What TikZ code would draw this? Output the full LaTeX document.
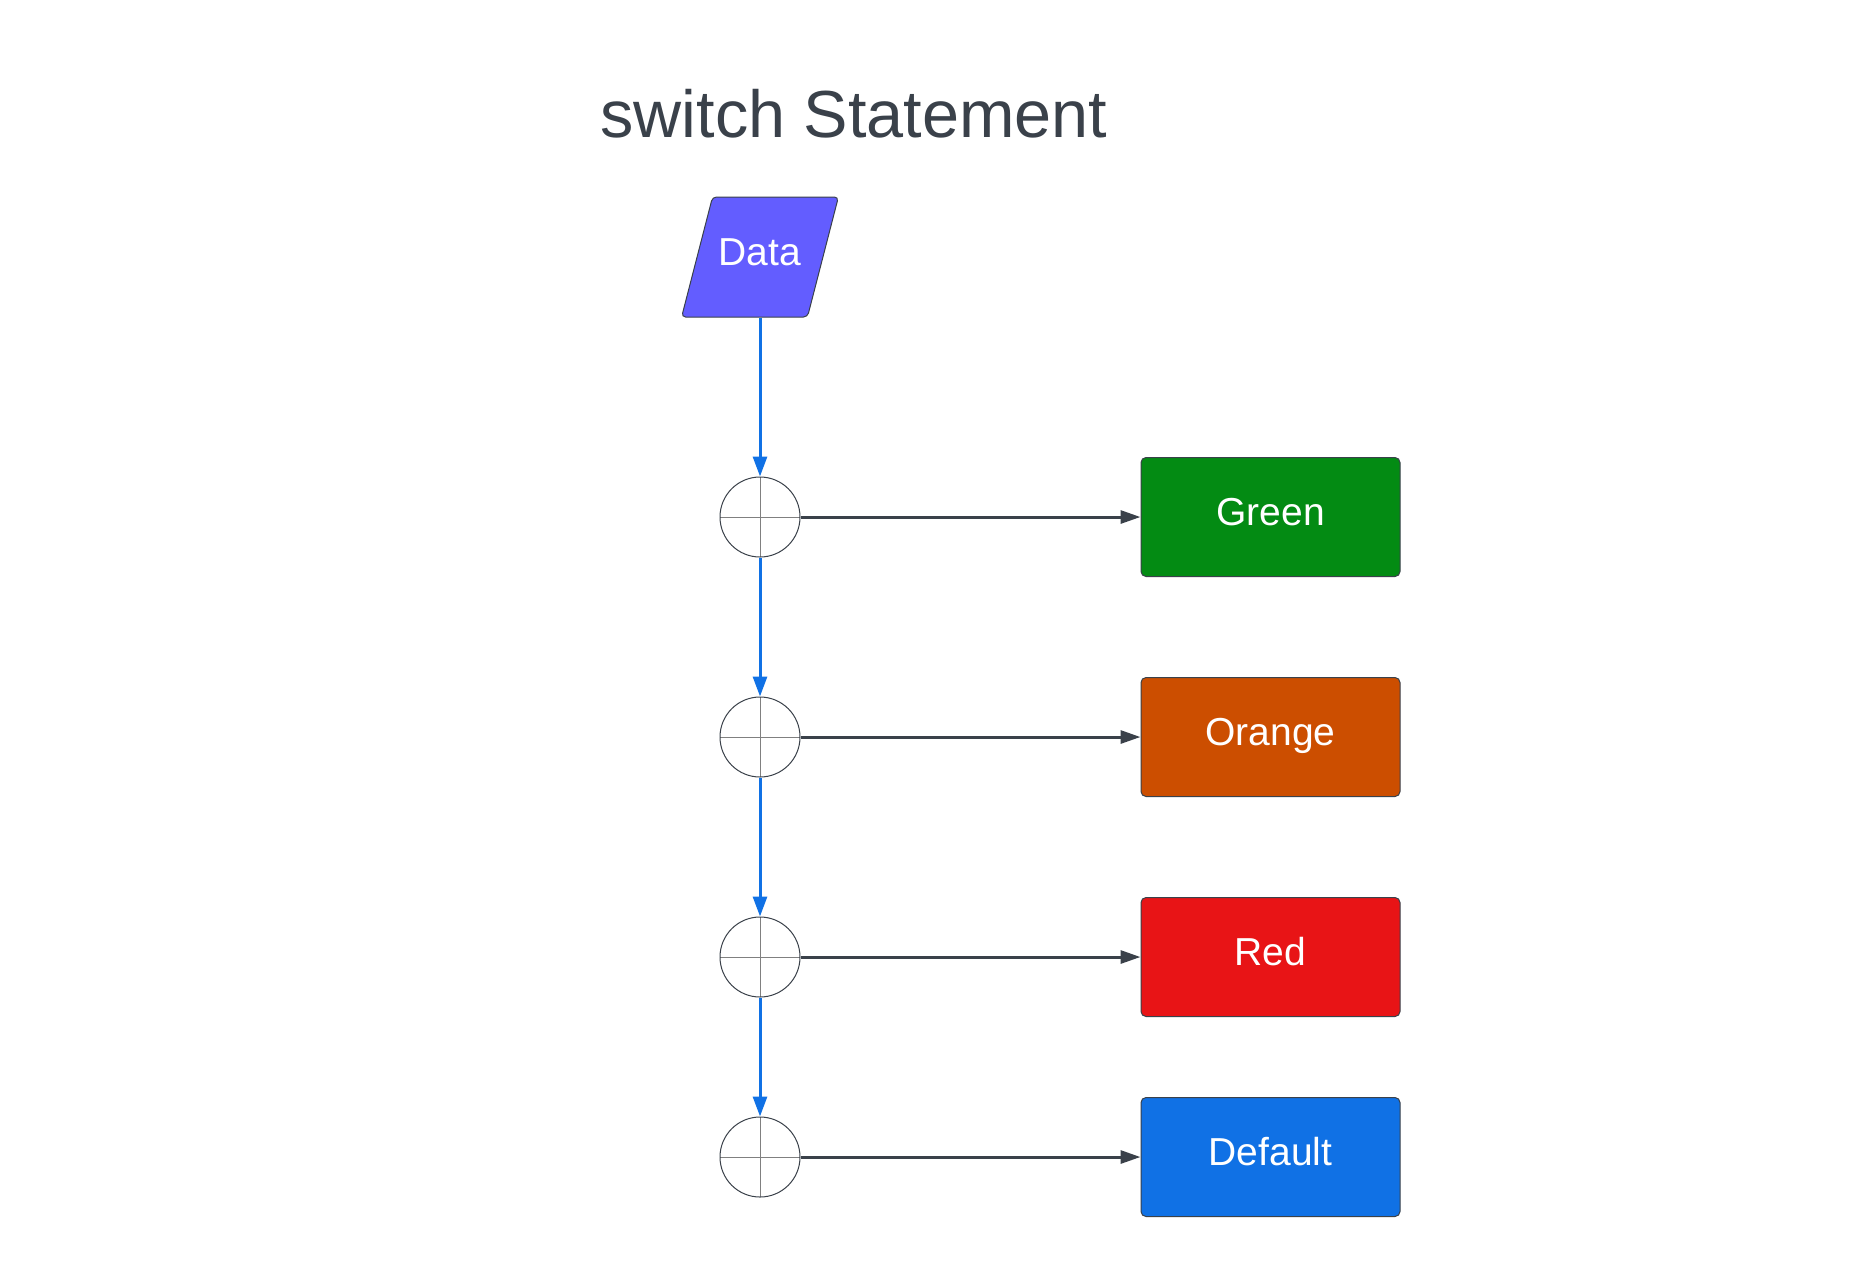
\documentclass[tikz,border=0pt]{standalone}
\usepackage{fontspec}
\setmainfont{Liberation Sans}
\usetikzlibrary{shapes.geometric, arrows.meta, positioning}

\definecolor{inkgray}{RGB}{58,65,74}
\definecolor{crossgray}{RGB}{128,128,128}
\definecolor{datapurple}{RGB}{99,93,255}
\definecolor{flowblue}{RGB}{16,113,229}
\definecolor{casegreen}{RGB}{3,139,19}
\definecolor{caseorange}{RGB}{204,78,0}
\definecolor{casered}{RGB}{232,20,22}
\definecolor{caseblue}{RGB}{16,113,229}

\begin{document}
\begin{tikzpicture}[
  x=1pt, y=-1pt,
  node distance=139pt and 340pt,
  title/.style={font=\fontsize{66.6}{80}\selectfont, text=inkgray},
  datablock/.style={trapezium, trapezium left angle=76.4, trapezium right angle=103.6,
    trapezium stretches=true, draw=inkgray, line width=1pt, fill=datapurple,
    inner ysep=40pt, minimum width=157pt, rounded corners=4pt,
    text=white, text height=28pt, text depth=12pt, font=\fontsize{39}{47}\selectfont},
  casepoint/.style={circle, draw=inkgray, line width=1pt, minimum size=80pt, inner sep=0pt,
    path picture={\draw[crossgray, line width=1pt]
      (path picture bounding box.north) -- (path picture bounding box.south)
      (path picture bounding box.west) -- (path picture bounding box.east);}},
  result/.style={rectangle, draw=inkgray, line width=1pt, rounded corners=5pt,
    minimum width=259pt, minimum height=119pt,
    text=white, text height=28pt, text depth=12pt, font=\fontsize{39}{47}\selectfont},
  flow/.style={-{Triangle[length=20pt, width=14pt]}, draw=flowblue, line width=3pt},
  branch/.style={-{Triangle[length=20pt, width=13pt]}, draw=inkgray, line width=3pt},
]
\useasboundingbox (0,0) rectangle (1870,1277);

% Title and input
\node[title] (heading) at (854,114) {switch Statement};
\node[datablock] (data) at (760,257) {Data};

% Case checks
\node[casepoint, below=159pt of data] (check1) {};
\node[casepoint, below=of check1] (check2) {};
\node[casepoint, below=of check2] (check3) {};
\node[casepoint, below=119pt of check3] (check4) {};

% Outcomes
\node[result, fill=casegreen, right=of check1] (green) {Green};
\node[result, fill=caseorange, right=of check2] (orange) {Orange};
\node[result, fill=casered, right=of check3] (red) {Red};
\node[result, fill=caseblue, right=of check4] (default) {Default};

% Connections
\draw[flow] (data.south) -- (check1.north);
\draw[flow] (check1) -- (check2);
\draw[flow] (check2) -- (check3);
\draw[flow] (check3) -- (check4);

\draw[branch] (check1) -- (green);
\draw[branch] (check2) -- (orange);
\draw[branch] (check3) -- (red);
\draw[branch] (check4) -- (default);

\end{tikzpicture}
\end{document}
